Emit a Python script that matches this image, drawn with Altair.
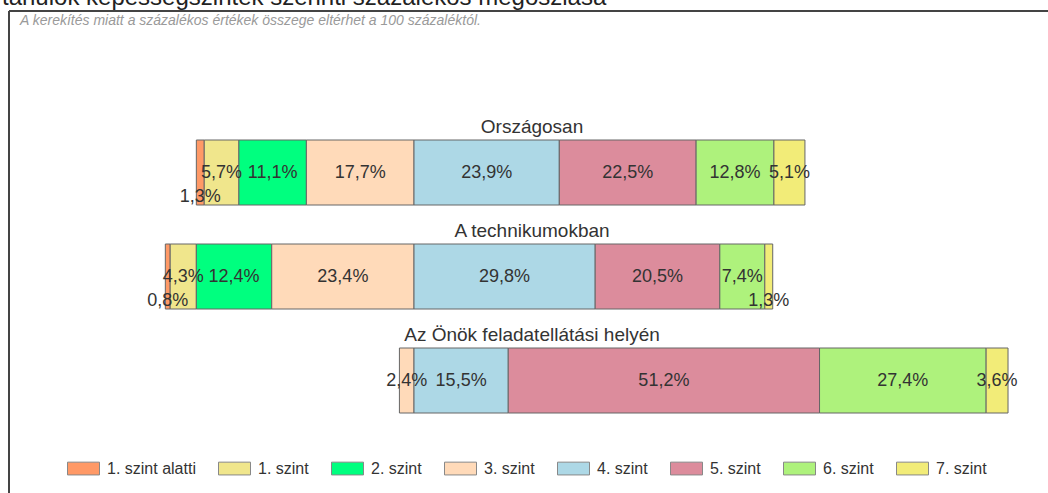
import altair as alt
import pandas as pd

rows = ["Országosan", "A technikumokban", "Az Önök feladatellátási helyén"]
levels = ["1. szint alatti", "1. szint", "2. szint", "3. szint",
          "4. szint", "5. szint", "6. szint", "7. szint"]
orszagosan = [1.3, 5.7, 11.1, 17.7, 23.9, 22.5, 12.8, 5.1]
technikum = [0.8, 4.3, 12.4, 23.4, 29.8, 20.5, 7.4, 1.3]
onok = [0.0, 0.0, 0.0, 2.4, 15.5, 51.2, 27.4, 3.6]
colors = ["#FF9966", "#F0E68C", "#00FF7F", "#FFDAB9",
          "#ADD8E6", "#DC8C9C", "#AEF27C", "#F2EC78"]

header = "tanulók képességszintek szerinti százalékos megoszlása"
note = "A kerekítés miatt a  százalékos értékek összege eltérhet a 100 százaléktól."

recs = []
for row, vals in zip(rows, [orszagosan, technikum, onok]):
    start = -sum(vals[:4])
    for lev, v in zip(levels, vals):
        if v > 0:
            recs.append({
                "row": row, "level": lev, "v": v,
                "x": start, "x2": start + v, "mid": start + v / 2,
                "label": f"{v:.1f}".replace(".", ",") + "%",
            })
        start += v
df = pd.DataFrame(recs)

FONT = "Liberation Sans"
xscale = alt.Scale(domain=[-50, 100], range=[110, 1022], nice=False, zero=False)
yscale = alt.Scale(domain=rows, range=[140, 413], paddingInner=0.375, paddingOuter=0)

base = alt.Chart(df)

bars = base.mark_bar(stroke="#666666", strokeWidth=1).encode(
    x=alt.X("x:Q", scale=xscale, axis=None),
    x2="x2:Q",
    y=alt.Y("row:N", scale=yscale, axis=None),
    color=alt.Color(
        "level:N",
        scale=alt.Scale(domain=levels, range=colors),
        legend=alt.Legend(
            title=None, orient="none", legendX=67, legendY=452,
            direction="horizontal",
            symbolType="M-1,-0.4H1V0.4H-1Z", symbolSize=1024,
            symbolStrokeColor="#888888", symbolStrokeWidth=1,
            symbolOpacity=1,
            labelFont=FONT, labelFontSize=16, labelColor="#333333",
            labelOffset=7, columnPadding=20, padding=0,
        ),
    ),
)

labels_big = base.transform_filter("datum.v >= 2").mark_text(
    font=FONT, fontSize=18, color="#333333", baseline="middle"
).encode(
    x=alt.X("mid:Q", scale=xscale, axis=None),
    y=alt.Y("row:N", scale=yscale, axis=None),
    text="label:N",
)

labels_small = base.transform_filter("datum.v < 2").mark_text(
    font=FONT, fontSize=18, color="#333333", baseline="middle", dy=24
).encode(
    x=alt.X("mid:Q", scale=xscale, axis=None),
    y=alt.Y("row:N", scale=yscale, axis=None),
    text="label:N",
)

titles = alt.Chart(pd.DataFrame({"row": rows})).mark_text(
    font=FONT, fontSize=19, color="#333333", align="center",
    baseline="alphabetic", dy=-40
).encode(
    x=alt.value(532),
    y=alt.Y("row:N", scale=yscale, axis=None),
    text="row:N",
)

note_t = alt.Chart(pd.DataFrame({"t": [note]})).mark_text(
    font=FONT, fontSize=14, fontStyle="italic", color="#9a9a9a",
    align="left", baseline="alphabetic"
).encode(x=alt.value(20), y=alt.value(25), text="t:N")

header_t = alt.Chart(pd.DataFrame({"t": [header]})).mark_text(
    font=FONT, fontSize=24, color="#222222", align="left", baseline="alphabetic"
).encode(x=alt.value(2), y=alt.value(5), text="t:N")

frame_v = alt.Chart(pd.DataFrame({"a": [0]})).mark_rule(
    color="#444444", strokeWidth=2
).encode(x=alt.value(9), y=alt.value(11), y2=alt.value(493))

frame_h = alt.Chart(pd.DataFrame({"a": [0]})).mark_rule(
    color="#444444", strokeWidth=2
).encode(x=alt.value(9), x2=alt.value(1048), y=alt.value(11))

chart = alt.layer(
    bars, labels_big, labels_small, titles, note_t, header_t, frame_v, frame_h
).properties(
    width=1048, height=493,
    autosize=alt.AutoSizeParams(type="none"),
    padding=0,
    background="white",
).configure_view(stroke=None)

chart.save("out.html", embed_options={"renderer": "svg", "actions": False})
